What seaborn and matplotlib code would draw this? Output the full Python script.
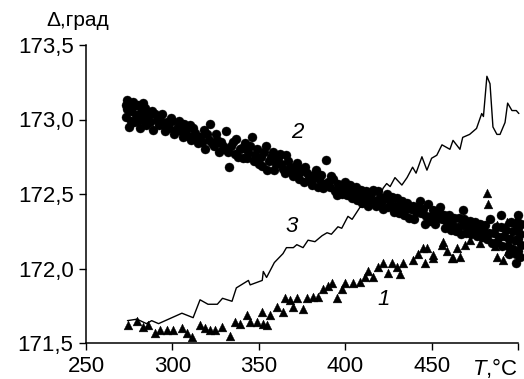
import matplotlib
matplotlib.use("Agg")
import matplotlib.pyplot as plt
import seaborn as sns
import pandas as pd

# ---- data ----
circ_T = [273, 273, 274, 275, 276, 277, 278, 279, 280, 281, 282, 283, 284, 285, 286, 288, 289,
          291, 292, 294, 296, 297, 299, 301, 303, 304, 306, 308, 310, 311, 313, 315, 316, 318,
          319, 321, 322, 324, 325, 327, 328, 330, 331, 333, 334, 336, 337, 339, 341, 342, 344,
          346, 347, 349, 351, 352, 354, 356, 358, 359, 361, 363, 365, 366, 368, 370, 372, 374,
          376, 377, 379, 381, 383, 385, 387, 389, 390, 392, 394, 396, 398, 400, 402, 404, 406,
          408, 410, 412, 414, 416, 418, 420, 422, 424, 426, 428, 430, 432, 434, 436, 438, 440,
          442, 443, 444, 446, 448, 450, 452, 454, 455, 456, 458, 460, 462, 464, 466, 468, 468,
          470, 472, 474, 476, 478, 480, 482, 484, 486, 488, 490, 490, 492, 494, 496, 497, 498,
          499, 500, 500, 500, 500, 499, 495, 502, 502]
circ_V = [173.10, 173.02, 173.13, 172.95, 173.06, 173.12, 172.98, 173.03, 173.10, 172.94, 173.05,
          173.00, 173.08, 172.96, 173.02, 173.06, 172.93, 173.00, 172.96, 173.04, 172.92, 172.98,
          173.01, 172.90, 172.95, 172.99, 172.88, 172.93, 172.96, 172.86, 172.91, 172.84, 172.88,
          172.93, 172.80, 172.86, 172.97, 172.82, 172.90, 172.78, 172.85, 172.80, 172.92, 172.68,
          172.82, 172.77, 172.87, 172.80, 172.74, 172.84, 172.78, 172.88, 172.72, 172.80, 172.75,
          172.69, 172.82, 172.72, 172.78, 172.66, 172.74, 172.70, 172.64, 172.76, 172.68, 172.62,
          172.71, 172.65, 172.58, 172.68, 172.62, 172.56, 172.66, 172.60, 172.54, 172.73, 172.58,
          172.62, 172.52, 172.57, 172.50, 172.58, 172.53, 172.47, 172.55, 172.50, 172.44, 172.52,
          172.46, 172.53, 172.42, 172.48, 172.40, 172.50, 172.45, 172.38, 172.47, 172.42, 172.36,
          172.44, 172.40, 172.33, 172.41, 172.45, 172.37, 172.30, 172.43, 172.35, 172.30, 172.38,
          172.41, 172.33, 172.27, 172.36, 172.30, 172.25, 172.34, 172.29, 172.39, 172.24, 172.32,
          172.27, 172.22, 172.30, 172.26, 172.20, 172.33, 172.24, 172.18, 172.28, 172.36, 172.22,
          172.15, 172.31, 172.25, 172.19, 172.10, 172.36, 172.27, 172.20, 172.12, 172.04, 172.10,
          172.30, 172.16]
circ_T_extra = [274, 276, 278, 280, 283, 285, 287, 290, 293, 295, 298, 300, 302, 305, 307, 309,
                312, 314, 317, 320, 323, 326, 329, 332, 335, 338, 340, 343, 345, 348, 350, 353,
                355, 357, 360, 362, 364, 367, 369, 371, 373, 375, 378, 380, 382, 384, 386, 388,
                391, 393, 395, 397, 399, 401, 403, 405, 407, 409, 411, 413, 415, 417, 419, 421,
                423, 425, 427, 429, 431, 433, 435, 437, 439, 441, 445, 447, 449, 451, 453, 457,
                459, 461, 463, 465, 467, 469, 471, 473, 475, 477, 479, 481, 483, 485, 487, 489,
                491, 493, 495, 497, 499, 501, 501]
circ_V_extra = [173.07, 172.99, 173.09, 173.00, 173.11, 173.04, 172.98, 173.04, 173.00, 172.96,
                172.94, 172.99, 172.93, 172.92, 172.97, 172.89, 172.94, 172.88, 172.85, 172.90,
                172.84, 172.86, 172.82, 172.78, 172.85, 172.75, 172.81, 172.74, 172.82, 172.76,
                172.70, 172.78, 172.66, 172.75, 172.70, 172.77, 172.67, 172.72, 172.65, 172.68,
                172.60, 172.67, 172.64, 172.59, 172.63, 172.55, 172.63, 172.57, 172.55, 172.60,
                172.49, 172.54, 172.55, 172.49, 172.56, 172.51, 172.46, 172.53, 172.48, 172.42,
                172.50, 172.45, 172.52, 172.44, 172.47, 172.41, 172.48, 172.42, 172.37, 172.45,
                172.40, 172.34, 172.42, 172.38, 172.40, 172.35, 172.32, 172.39, 172.34, 172.36,
                172.31, 172.26, 172.34, 172.28, 172.23, 172.33, 172.28, 172.23, 172.31, 172.26,
                172.21, 172.29, 172.24, 172.17, 172.28, 172.21, 172.15, 172.26, 172.20, 172.13,
                172.30, 172.23, 172.08]

tri_T = [274.3, 279.5, 283, 285.9, 290, 292.8, 296.9, 300.3, 305.6, 308.4, 311.3, 316, 318.9,
         321.8, 324.7, 328.7, 333.3, 336.2, 339.1, 343.2, 344.9, 349, 352.4, 354.7, 351.9, 356.5,
         360.5, 364, 365.2, 368.1, 369.8, 372.1, 375.6, 377.9, 381.4, 384.3, 387.2, 390, 392.4,
         395.3, 398.1, 399.9, 404.5, 408.6, 411.5, 413.2, 416.1, 419, 421.9, 424.8, 427.1, 430,
         431.7, 433.4, 439.2, 442.1, 445, 446.2, 450.8, 456, 458.9, 461.8, 464.7, 469.3, 472.2,
         478, 487.8, 482, 482.6, 456.6, 447.3, 450.8, 462.4, 466.4, 478, 486.7, 491.3, 494.2,
         499.4, 498.3, 493.6, 487.8, 500, 496]
tri_V = [171.62, 171.65, 171.61, 171.62, 171.57, 171.59, 171.59, 171.59, 171.60, 171.57, 171.54,
         171.62, 171.60, 171.59, 171.59, 171.61, 171.55, 171.64, 171.63, 171.69, 171.64, 171.64,
         171.63, 171.62, 171.71, 171.69, 171.74, 171.71, 171.80, 171.79, 171.74, 171.80, 171.73,
         171.80, 171.81, 171.81, 171.86, 171.88, 171.90, 171.80, 171.86, 171.90, 171.90, 171.91,
         171.94, 171.98, 171.94, 172.01, 172.04, 171.97, 172.04, 172.01, 171.96, 172.04, 172.06,
         172.10, 172.14, 172.04, 172.09, 172.16, 172.12, 172.07, 172.14, 172.16, 172.19, 172.24,
         172.08, 172.51, 172.43, 172.18, 172.14, 172.07, 172.07, 172.08, 172.17, 172.15, 172.06,
         172.12, 172.19, 172.31, 172.31, 172.29, 172.34, 172.22]

line_T = [274, 279.5, 285, 288, 292, 305.5, 312, 316, 320.6, 326, 329, 334.5, 337, 344, 345, 352,
          352.6, 354.5, 359, 364, 366, 370, 372, 375.6, 378.5, 382.5, 386.6, 389.5, 392, 395.8,
          398, 401.6, 404, 408.5, 412, 416, 419, 422, 424, 426, 428.8, 432.8, 435.8, 439, 441,
          444.4, 447.3, 450, 453, 456, 460.6, 462.4, 466.4, 468, 472, 476, 479, 480, 482, 483.8,
          485.5, 487.8, 489.6, 492.5, 494, 496.5, 499, 500.5]
line_V = [171.65, 171.66, 171.63, 171.65, 171.63, 171.70, 171.67, 171.79, 171.76, 171.76, 171.80,
          171.78, 171.87, 171.92, 171.89, 171.92, 171.98, 171.94, 172.04, 172.10, 172.14, 172.14,
          172.16, 172.14, 172.19, 172.18, 172.22, 172.24, 172.23, 172.28, 172.27, 172.35, 172.33,
          172.41, 172.42, 172.47, 172.46, 172.54, 172.57, 172.55, 172.61, 172.56, 172.61, 172.68,
          172.64, 172.75, 172.66, 172.74, 172.76, 172.83, 172.80, 172.86, 172.80, 172.88, 172.90,
          172.94, 173.04, 173.02, 173.29, 173.24, 172.95, 172.90, 172.90, 172.98, 173.11, 173.06,
          173.06, 173.04]

x_ticks = [250, 300, 350, 400, 450, 500]
x_labels = ["250", "300", "350", "400", "450", r"$T$,°C"]
y_ticks = [171.5, 172.0, 172.5, 173.0, 173.5]
y_labels = ["171,5", "172,0", "172,5", "173,0", "173,5"]
curve_labels = ["1", "2", "3"]
curve_label_pos = [(422, 171.79), (372, 172.91), (369, 172.28)]

# ---- plotting ----
sns.set_theme(style="ticks")
plt.rcParams["font.family"] = ["Liberation Sans", "DejaVu Sans"]
plt.rcParams["mathtext.fontset"] = "custom"
plt.rcParams["mathtext.it"] = "Liberation Sans:italic"
plt.rcParams["mathtext.rm"] = "Liberation Sans"

fig = plt.figure(figsize=(5.24, 3.79), dpi=100)
ax = fig.add_axes([86 / 524, 36 / 379, 432 / 524, 298 / 379])

df_c = pd.DataFrame({"T": circ_T + circ_T_extra, "V": circ_V + circ_V_extra})
df_t = pd.DataFrame({"T": tri_T, "V": tri_V})
df_l = pd.DataFrame({"T": line_T, "V": line_V})

sns.lineplot(data=df_l, x="T", y="V", ax=ax, color="black", lw=1.0, sort=False,
             estimator=None, clip_on=False)
sns.scatterplot(data=df_c, x="T", y="V", ax=ax, color="black", marker="o", s=42,
                edgecolor="black", linewidth=0.3, clip_on=False)
sns.scatterplot(data=df_t, x="T", y="V", ax=ax, color="black", marker="^", s=40,
                edgecolor="black", linewidth=0.3, clip_on=False)

ax.set_xlim(250, 500)
ax.set_ylim(171.5, 173.5)
ax.set_xticks(x_ticks)
ax.set_xticklabels(x_labels)
ax.set_yticks(y_ticks)
ax.set_yticklabels(y_labels)
ax.set_xlabel("")
ax.set_ylabel("")
ax.tick_params(axis="both", labelsize=16, length=5, width=1, color="black",
               labelcolor="black", direction="out", pad=4)
xt = ax.get_xticklabels()
xt[-1].set_horizontalalignment("right")
xt[-1].set_x(500)
for side in ["top", "right"]:
    ax.spines[side].set_visible(False)
for side in ["left", "bottom"]:
    ax.spines[side].set_linewidth(1.1)
    ax.spines[side].set_color("black")

for lab, (tx, ty) in zip(curve_labels, curve_label_pos):
    ax.text(tx, ty, lab, fontsize=16, style="italic", ha="center", va="center",
            color="black")

fig.text(46 / 524, 1 - 20 / 379, "Δ,град", fontsize=15, ha="left", va="center",
         color="black")

fig.savefig("out.png", dpi=100)
